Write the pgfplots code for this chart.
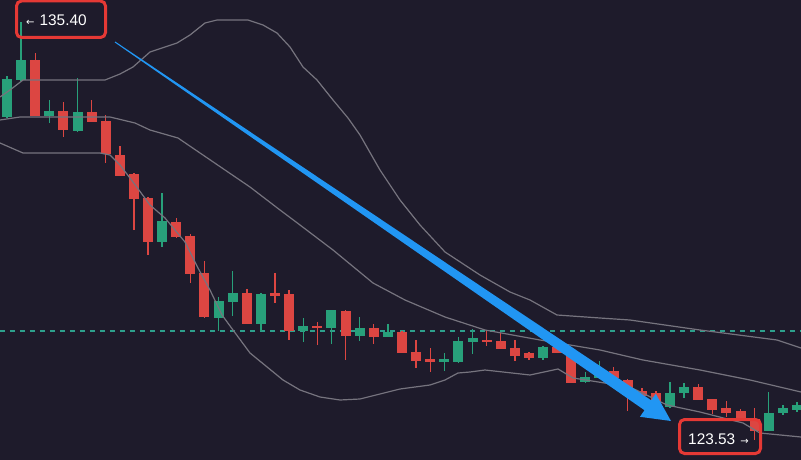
\documentclass[border=0pt]{standalone}
\usepackage{pgfplots}
\usepackage{pgfplotstable}
\pgfplotsset{compat=1.18}
\usepackage{fontspec}
\setmainfont{Liberation Sans}
\newfontfamily\dejavu{DejaVu Sans}
\definecolor{bg}{RGB}{30,27,43}
\definecolor{cgreen}{RGB}{40,160,122}
\definecolor{cred}{RGB}{220,70,66}
\definecolor{dashc}{RGB}{45,160,140}
\definecolor{bandc}{RGB}{118,116,126}
\definecolor{arrowc}{RGB}{33,150,243}
\definecolor{boxred}{RGB}{229,57,53}

% candles in chart pixel units (y measured downward): index, open, high, low, close
\pgfplotstableread{
i o h l c
0 117 76 118 79
1 80 22 81 60
3 116 100 123 111
5 131 78 132 112
11 242 193 247 221
15 318 297 331 301
16 302 271 316 293
18 324 293 331 294
21 331 318 342 326
23 328 310 344 310
25 336 317 341 328
27 337 324 337 332
31 362 353 371 359
32 362 337 363 341
33 342 329 354 338
38 358 346 360 347
41 382 372 383 377
42 378 361 379 371
47 407 382 408 393
48 393 383 398 387
54 431 392 431 413
55 413 405 415 408
56 410 402 412 405
}\up

\pgfplotstableread{
i o h l c
2 60 53 116 116
4 111 102 137 130
6 112 100 122 122
7 121 115 163 154
8 155 146 176 176
9 174 173 230 199
10 198 197 255 242
12 222 218 238 237
13 236 234 283 274
14 273 261 318 317
17 293 289 324 324
19 293 273 303 296
20 294 290 340 331
22 326 322 345 328
24 311 310 360 336
26 328 324 344 337
28 332 331 353 353
29 352 340 368 361
30 359 348 372 362
34 340 330 346 342
35 341 333 349 349
36 348 340 361 356
37 353 352 360 358
39 347 345 353 353
40 356 355 383 383
43 371 367 378 378
44 380 379 411 395
45 391 388 396 396
46 393 391 402 402
49 387 384 400 400
50 399 399 414 410
51 408 401 417 413
52 411 409 420 420
53 419 408 440 431
}\down

\begin{document}
\begin{tikzpicture}
\begin{axis}[
  scale only axis, width=801pt, height=460pt,
  xmin=0, xmax=801, ymin=0, ymax=460, y dir=reverse,
  axis line style={draw=none}, ticks=none,
  axis background/.style={fill=bg},
  clip=true,
  candle/.style={draw=none, no markers, forget plot,
    error bars/.cd, y dir=both, y explicit, error mark=none},
]
% dashed price line
\addplot[dashc, line width=1.1pt, dash pattern=on 5pt off 5pt, forget plot] coordinates {(0,331) (801,331)};

% wicks
\addplot[candle, error bar style={line width=1.4pt, draw=cgreen, solid}]
  table[x expr={7+14.107*\thisrow{i}}, y expr={(\thisrow{h}+\thisrow{l})/2}, y error expr={(\thisrow{l}-\thisrow{h})/2}] {\up};
\addplot[candle, error bar style={line width=1.4pt, draw=cred, solid}]
  table[x expr={7+14.107*\thisrow{i}}, y expr={(\thisrow{h}+\thisrow{l})/2}, y error expr={(\thisrow{l}-\thisrow{h})/2}] {\down};
% bodies
\addplot[candle, error bar style={line width=10pt, draw=cgreen, solid}]
  table[x expr={7+14.107*\thisrow{i}}, y expr={(\thisrow{o}+\thisrow{c})/2}, y error expr={max(abs(\thisrow{o}-\thisrow{c})/2,0.7)}] {\up};
\addplot[candle, error bar style={line width=10pt, draw=cred, solid}]
  table[x expr={7+14.107*\thisrow{i}}, y expr={(\thisrow{o}+\thisrow{c})/2}, y error expr={max(abs(\thisrow{o}-\thisrow{c})/2,0.7)}] {\down};

% Bollinger bands
\addplot[bandc, line width=1.2pt, forget plot] coordinates {
(0,97) (10,90) (23,80) (60,80) (105,80) (120,74) (133,67) (150,52) (177,43) (190,35) (205,23) (217,20) (248,20) (263,25) (277,33) (290,47) (303,67) (317,80) (333,100) (348,118) (360,135) (380,170) (400,200) (420,225) (445,252) (480,275) (510,292) (530,300) (557,315) (600,318) (630,320) (700,330) (777,340) (801,348)};
\addplot[bandc, line width=1.2pt, forget plot] coordinates {
(0,120) (20,117) (110,117) (135,123) (150,130) (178,138) (225,170) (250,187) (280,210) (300,225) (333,250) (373,283) (405,300) (445,317) (485,330) (540,340) (600,350) (630,357) (643,360) (700,370) (750,380) (801,392)};
\addplot[bandc, line width=1.2pt, forget plot] coordinates {
(0,143) (23,153) (100,153) (110,155) (120,165) (133,182) (150,205) (165,218) (185,242) (198,268) (210,290) (222,315) (233,330) (250,353) (283,380) (300,390) (320,397) (340,400) (360,399) (380,394) (400,389) (430,385) (445,380) (458,373) (470,372) (485,370) (530,375) (558,369) (573,378) (630,387) (667,405) (700,412) (743,423) (760,433) (801,437)};

% blue trend arrow
\addplot[fill=arrowc, draw=none, forget plot] coordinates {
(115.28,41.59) (651.24,400.27) (655.74,393.66) (671,421) (639.98,416.80) (644.48,410.19) (114.72,42.41)} -- cycle;

% price labels
\draw[boxred, line width=3pt, rounded corners=5pt] (axis cs:16.5,1) rectangle (axis cs:105.5,37.5);
\node[anchor=base west, text=white, font=\fontsize{15.4}{17}\selectfont, inner sep=0pt] at (axis cs:26,26) {{\dejavu\fontsize{10}{12}\selectfont ←}\hspace{5pt}135.40};
\draw[boxred, line width=3pt, rounded corners=5pt] (axis cs:679.5,419.5) rectangle (axis cs:760.5,453.5);
\node[anchor=base west, text=white, font=\fontsize{15.4}{17}\selectfont, inner sep=0pt] at (axis cs:688,444) {123.53\hspace{5pt}{\dejavu\fontsize{10}{12}\selectfont →}};
\end{axis}
\end{tikzpicture}
\end{document}
